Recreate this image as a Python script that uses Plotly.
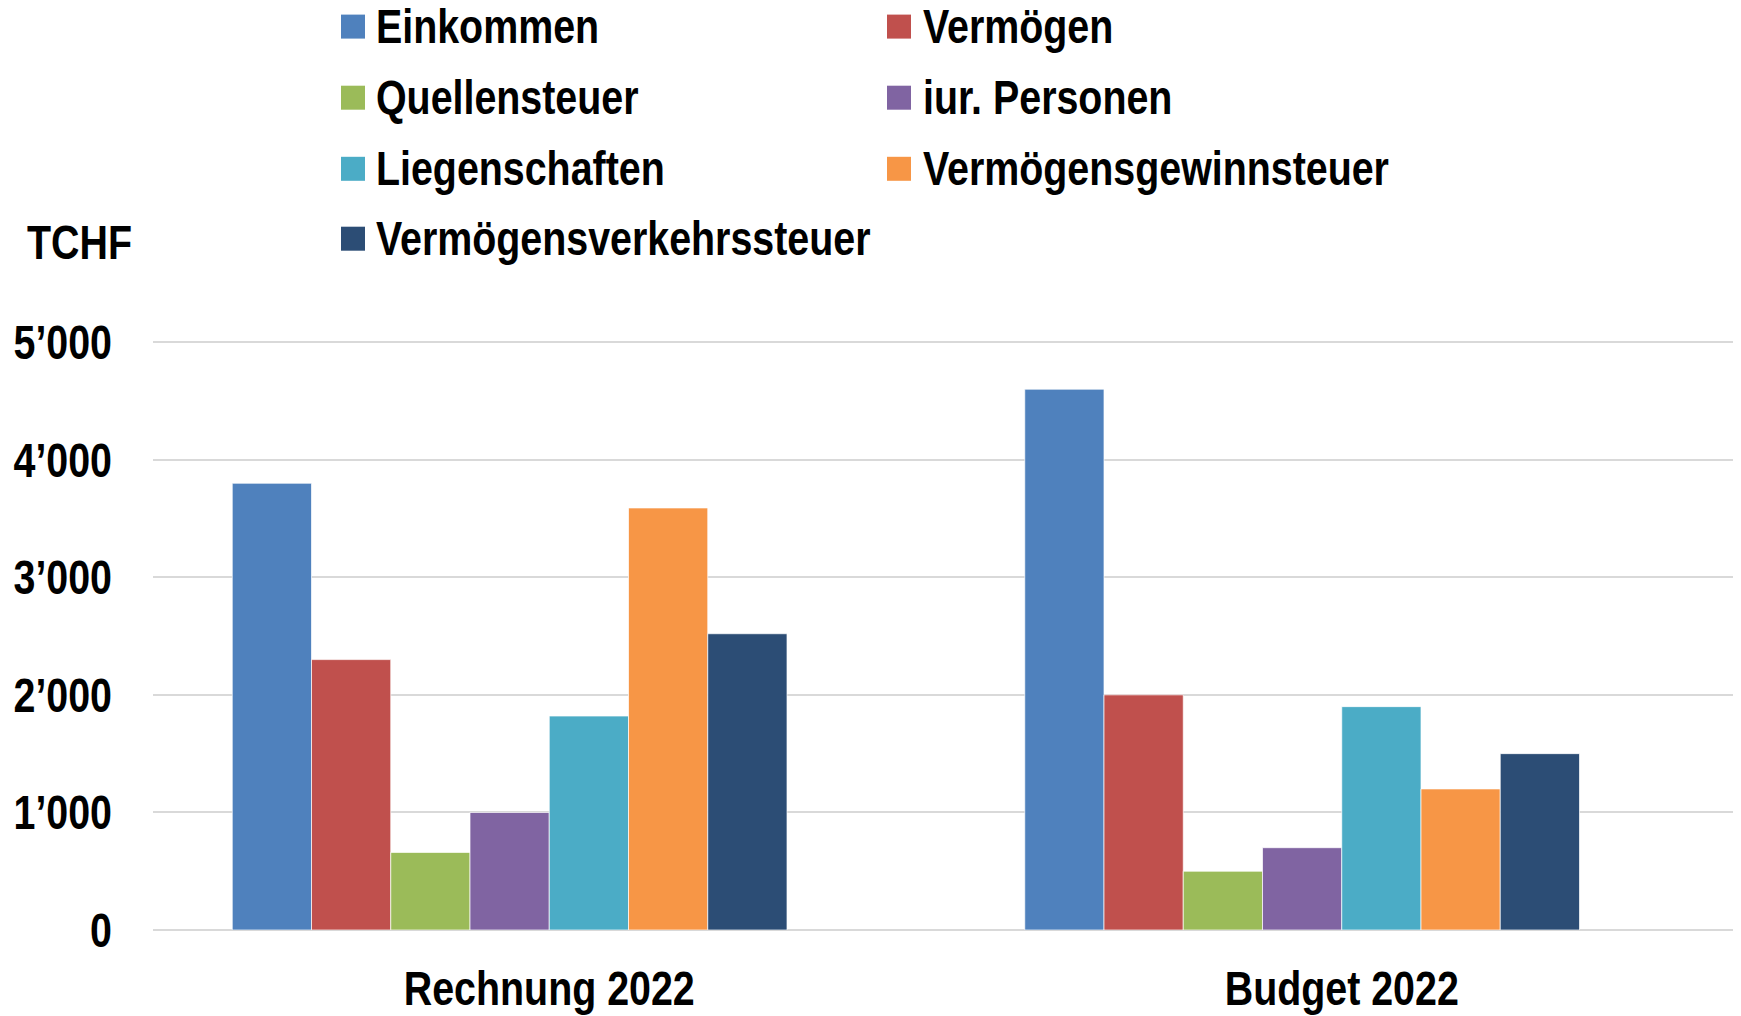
import plotly.graph_objects as go

categories = ["Rechnung 2022", "Budget 2022"]
series_names = ["Einkommen", "Vermögen", "Quellensteuer", "iur. Personen",
                "Liegenschaften", "Vermögensgewinnsteuer", "Vermögensverkehrssteuer"]
einkommen = [3800, 4600]
vermoegen = [2300, 2000]
quellensteuer = [660, 500]
jur_personen = [1000, 700]
liegenschaften = [1820, 1900]
vermoegensgewinnsteuer = [3590, 1200]
vermoegensverkehrssteuer = [2520, 1500]
series_values = [einkommen, vermoegen, quellensteuer, jur_personen,
                 liegenschaften, vermoegensgewinnsteuer, vermoegensverkehrssteuer]
colors = ["#4F81BD", "#C0504D", "#9BBB59", "#8064A2", "#4BACC6", "#F79646", "#2C4D75"]
y_tickvals = [0, 1000, 2000, 3000, 4000, 5000]
y_ticktext = ["0", "1’000", "2’000", "3’000", "4’000", "5’000"]

OFF = 8  # page body margin
W, H = 1741 - OFF, 1016 - OFF
ML, MR, MT, MB = 153 - OFF, 3, 341 - OFF, 86
PW, PH = W - ML - MR, H - MT - MB
FONT = "Liberation Sans, Arial, sans-serif"
FS = 48

def px_x(px):
    return (px - OFF - ML) / PW

def px_y(py):
    return (H - MB - (py - OFF)) / PH

fig = go.Figure()
for name, vals, col in zip(series_names, series_values, colors):
    fig.add_trace(go.Bar(x=categories, y=vals, name=name, marker_color=col,
                         marker_line=dict(color="rgba(255,255,255,0.7)", width=1),
                         showlegend=False))
# empty eighth slot (as in the original chart layout)
fig.add_trace(go.Bar(x=categories, y=[0, 0], name="", showlegend=False,
                     marker_color="rgba(0,0,0,0)", marker_line_width=0, hoverinfo="skip"))

# manual legend (two columns), positions in page pixels
col_marker_x = [341, 887]
col_text_x = [374, 921]
row_y = [26.6, 97.7, 168.8, 238.7]
order = [(0, 0), (1, 0), (0, 1), (1, 1), (0, 2), (1, 2), (0, 3)]  # (col, row) per series
shapes = []
annotations = []
for i, (name, col) in enumerate(zip(series_names, colors)):
    c, r = order[i]
    x0 = col_marker_x[c]
    yc = row_y[r]
    shapes.append(dict(type="rect", xref="paper", yref="paper",
                       x0=px_x(x0), x1=px_x(x0 + 24), y0=px_y(yc + 12), y1=px_y(yc - 12),
                       fillcolor=col, line=dict(width=0)))
    annotations.append(dict(text=name, xref="paper", yref="paper", x=px_x(col_text_x[c]),
                            y=px_y(yc), xanchor="left", yanchor="middle", align="left",
                            showarrow=False,
                            font=dict(family=FONT, size=FS, color="black", weight="bold")))
annotations.append(dict(text="TCHF", xref="paper", yref="paper", x=px_x(25), y=px_y(242),
                        xanchor="left", yanchor="middle", align="left", showarrow=False,
                        font=dict(family=FONT, size=FS, color="black", weight="bold")))

fig.update_layout(
    width=W, height=H,
    margin=dict(l=ML, r=MR, t=MT, b=MB, autoexpand=False),
    paper_bgcolor="white", plot_bgcolor="white",
    barmode="group", bargap=0.2, bargroupgap=0,
    shapes=shapes, annotations=annotations,
    font=dict(family=FONT, size=FS, color="black", weight="bold"),
    showlegend=False,
)
fig.update_xaxes(showgrid=False, showline=False, zeroline=False, ticks="", automargin=False,
                 tickfont=dict(family=FONT, size=FS, color="black", weight="bold"),
                 ticklabelstandoff=26)
fig.update_yaxes(range=[0, 5010], tickvals=y_tickvals, ticktext=y_ticktext, automargin=False,
                 showgrid=True, gridcolor="#D9D9D9", gridwidth=2,
                 zeroline=True, zerolinecolor="#D9D9D9", zerolinewidth=2,
                 showline=False, ticks="",
                 tickfont=dict(family=FONT, size=FS, color="black", weight="bold"),
                 ticklabelstandoff=40)

# Condense all labels horizontally (the original uses a narrow bold face)
post = """
var gd = document.getElementById('{plot_id}');
gd.querySelectorAll('text').forEach(function(t) {
  var L = t.getComputedTextLength();
  if (L > 0) {
    t.setAttribute('textLength', (L * 0.82).toFixed(2));
    t.setAttribute('lengthAdjust', 'spacingAndGlyphs');
  }
});
"""

fig.write_html("out.html", post_script=post)
